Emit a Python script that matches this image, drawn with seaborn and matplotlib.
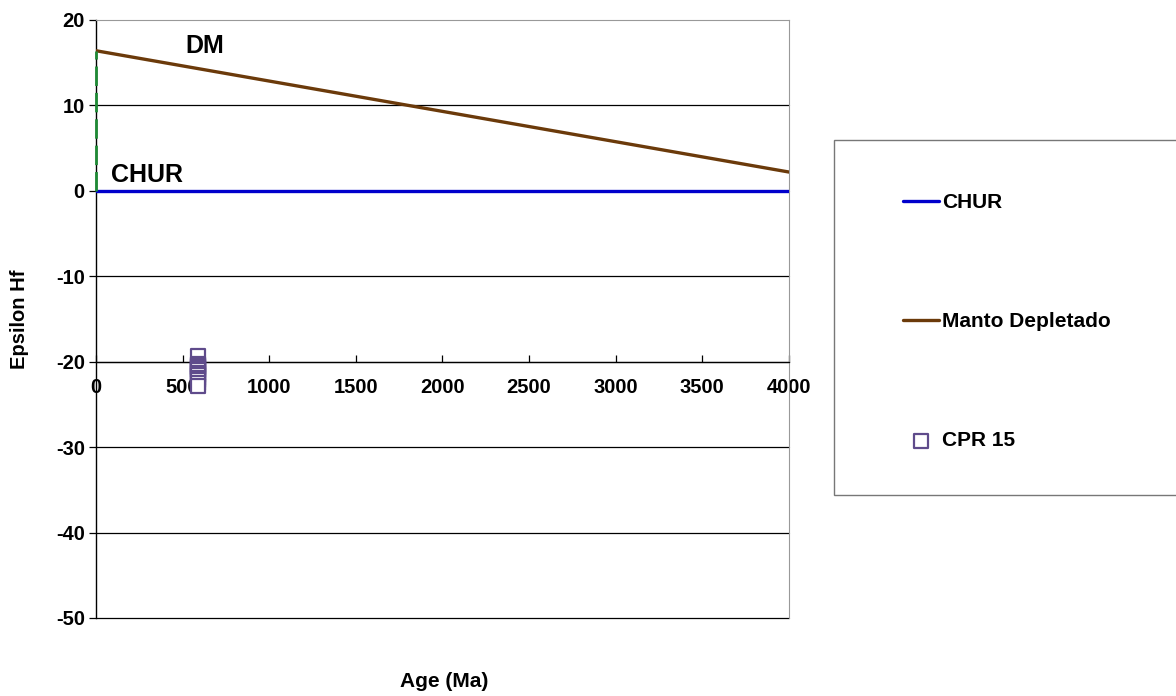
import matplotlib
matplotlib.use("Agg")
import matplotlib.pyplot as plt
import seaborn as sns
import pandas as pd
from matplotlib.patches import Rectangle

# Reference evolution curves (age in Ma, epsilon Hf)
curve_age = [0, 4000]
chur_eps = [0.0, 0.0]
dm_eps = [16.4, 2.2]

# Zircon analyses of sample CPR 15
cpr15_age = [590] * 14
cpr15_eps = [-19.3, -20.3, -20.4, -20.5, -20.6, -20.7, -20.8, -21.0,
             -21.3, -21.6, -21.9, -22.2, -22.5, -22.8]

# Vertical guide at zero age between CHUR and DM
guide_age = [0, 0]
guide_eps = [0.0, 16.4]

x_ticks = [0, 500, 1000, 1500, 2000, 2500, 3000, 3500, 4000]
y_ticks = [20, 10, 0, -10, -20, -30, -40, -50]

sns.set_style("white")
plt.rcParams["font.family"] = ["Liberation Sans", "DejaVu Sans"]
plt.rcParams["font.weight"] = "bold"
plt.rcParams["axes.unicode_minus"] = False
for key in ["text.color", "axes.labelcolor", "xtick.color", "ytick.color"]:
    plt.rcParams[key] = "black"

fig = plt.figure(figsize=(11.76, 6.96), dpi=100)
ax = fig.add_axes([0.0816, 0.1121, 0.5893, 0.8592])

chur_df = pd.DataFrame({"age": curve_age, "eps": chur_eps})
dm_df = pd.DataFrame({"age": curve_age, "eps": dm_eps})
guide_df = pd.DataFrame({"age": guide_age, "eps": guide_eps})
cpr_df = pd.DataFrame({"age": cpr15_age, "eps": cpr15_eps})

# horizontal grid
for yv in y_ticks[1:]:
    ax.axhline(yv, color="black", lw=0.9, zorder=0, clip_on=False)

sns.lineplot(data=chur_df, x="age", y="eps", ax=ax, color="#0000CC", lw=2.4,
             label="CHUR", zorder=3)
sns.lineplot(data=dm_df, x="age", y="eps", ax=ax, color="#6B3A0A", lw=2.4,
             label="Manto Depletado", zorder=3)
sns.lineplot(data=guide_df, x="age", y="eps", ax=ax, color="#1F8A35",
             lw=2.0, legend=False, zorder=6, estimator=None, sort=False)
guide_line = ax.lines[-1]
guide_line.set_linestyle((0, (7, 2.5)))
guide_line.set_clip_on(False)
sns.scatterplot(data=cpr_df, x="age", y="eps", ax=ax, marker="s", s=100,
                facecolor="white", edgecolor="#5F4B8B", linewidth=1.6,
                label="CPR 15", zorder=4)

ax.set_xlim(0, 4000)
ax.set_ylim(-50, 20)
ax.set_xticks(x_ticks)
ax.set_yticks(y_ticks)
ax.tick_params(axis="both", labelsize=14.5)
for lab in ax.get_xticklabels() + ax.get_yticklabels():
    lab.set_fontweight("bold")

# x axis crosses at -20
ax.spines["bottom"].set_position(("data", -20))
ax.spines["bottom"].set_color("black")
ax.spines["bottom"].set_linewidth(0.9)
ax.spines["left"].set_color("black")
ax.spines["left"].set_linewidth(1.0)
ax.spines["left"].set_zorder(1)
ax.spines["top"].set_color("#999999")
ax.spines["right"].set_color("#999999")
ax.tick_params(axis="x", direction="in", length=5, width=0.9, pad=12, bottom=True)
ax.tick_params(axis="y", direction="out", length=5, width=0.9, pad=3, left=True)

ax.set_xlabel("")
ax.set_ylabel("Epsilon Hf", fontsize=14.5, fontweight="bold", labelpad=19)
fig.text(0.3775, 0.0065, "Age (Ma)", ha="center", va="bottom", fontsize=15,
         fontweight="bold")

ax.text(514, 17.0, "DM", fontsize=18, fontweight="bold", va="center", ha="left")
ax.text(87, 1.9, "CHUR", fontsize=18, fontweight="bold", va="center", ha="left")

# legend in a separate frame to the right
handles, labels = ax.get_legend_handles_labels()
ax.get_legend().remove()
fig.patches.append(Rectangle((834 / 1176, 1 - 495 / 696), 0.4, 355 / 696,
                             transform=fig.transFigure, facecolor="white",
                             edgecolor="#777777", lw=1.0, zorder=0))
fig.legend(handles, labels, loc="upper left",
           bbox_to_anchor=(893 / 1176, 1 - 183 / 696),
           frameon=False, labelspacing=4.8,
           handlelength=1.73, handletextpad=0.12, borderpad=0,
           prop={"weight": "bold", "size": 15})

fig.savefig("out.png", dpi=100)
